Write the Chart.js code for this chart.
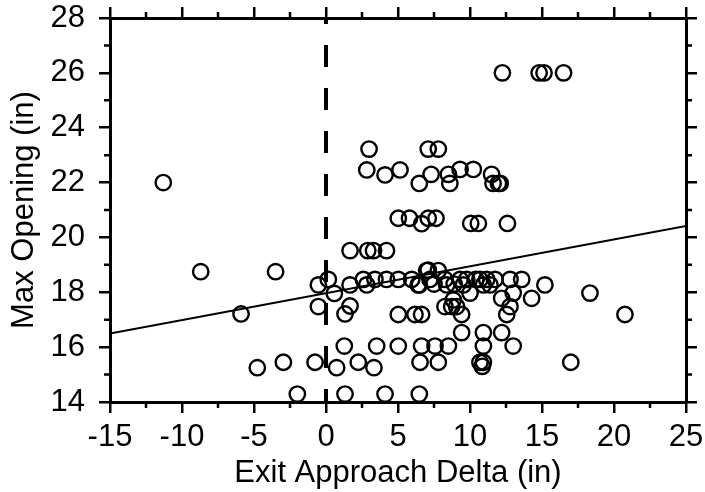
<!DOCTYPE html>
<html>
<head>
<meta charset="utf-8">
<script src="https://cdn.jsdelivr.net/npm/chart.js@4/dist/chart.umd.min.js"></script>
<style>
  html, body { margin: 0; padding: 0; background: #fff; }
  #wrap { width: 705px; height: 492px; }
</style>
</head>
<body>
<div id="wrap"><canvas id="chart"></canvas></div>
<script>
// measured points: exit approach delta (in) / max opening (in)
const deltaX = [
  -11.3, -8.7, -3.5, -5.9, -0.53, 0.16, 0.58, -0.53, 1.67, 1.67, 1.32,
  1.67, 2.9, 3.3, 4.2, 2.6, 2.83, 3.4, 4.2, 1.27, 3.52,
  -4.77, -2.96, -0.76, 0.74, 2.24, 3.33, -1.99, 1.32, 4.1,
  2.99, 7.1, 7.8, 2.83, 4.1, 5.14, 6.48, 7.3, 8.5, 8.6, 9.31, 10.23,
  11.5, 11.6, 11.97, 12.1, 12.25, 14.8, 15.14, 16.5,
  5.02, 5.8, 6.64, 7.1, 7.64, 10.05, 10.58, 12.6,
  5.02, 5.95, 6.48, 6.99, 7.22, 7.8, 8.26, 8.38, 9.31, 9.54, 9.77, 10.69,
  10.93, 11.16, 11.39, 11.74, 12.78, 13.59, 15.2, 18.33, 20.76,
  10.0, 12.2, 13.0, 12.78, 12.55, 14.28, 8.26, 8.73, 9.07, 9.42, 8.84,
  5.02, 6.18, 6.64, 9.42, 10.93, 12.2,
  5.02, 6.64, 7.57, 8.5, 10.93, 13.0,
  6.53, 7.8, 10.69, 10.93, 10.85, 17.0, 6.48,
  7.5, 8.9, 10.4, 6.4, 7.1
];
const openingY = [
  22.0, 18.75, 18.75, 17.21, 18.27, 18.47, 17.96, 17.48, 18.27, 17.5, 17.21,
  19.52, 19.52, 19.52, 19.52, 18.47, 18.27, 18.47, 18.47, 16.04, 16.04,
  15.25, 15.45, 15.45, 15.25, 15.45, 15.25, 14.29, 14.29, 14.29,
  23.22, 23.22, 23.22, 22.46, 22.28, 22.46, 21.97, 22.3, 22.3, 21.97, 22.48, 22.48,
  22.3, 21.97, 21.97, 21.97, 26.0, 26.0, 26.0, 26.0,
  20.7, 20.7, 20.5, 20.7, 20.7, 20.51, 20.51, 20.51,
  18.47, 18.47, 18.27, 18.79, 18.47, 18.79, 18.47, 18.27, 18.47, 18.27, 18.47, 18.47,
  18.27, 18.47, 18.27, 18.47, 18.47, 18.47, 18.27, 17.97, 17.19,
  17.97, 17.78, 17.97, 17.48, 17.19, 17.78, 17.48, 17.48, 17.48, 17.19, 17.72,
  17.19, 17.19, 17.19, 16.53, 16.53, 16.53,
  16.04, 16.04, 16.04, 16.04, 16.04, 16.04,
  15.45, 15.45, 15.45, 15.45, 15.3, 15.45, 14.29,
  18.3, 18.3, 18.47, 18.27, 18.81
];
const fitX = [-15, 25];
const fitY = [16.5, 20.42];
const zeroY = [28, 14];

const xTicks = [-15, -10, -5, 0, 5, 10, 15, 20, 25];
const yTicks = [14, 16, 18, 20, 22, 24, 26, 28];

const font = { family: "'Liberation Sans', Arial, sans-serif", size: 31 };

const points = deltaX.map((x, i) => ({ x: x, y: openingY[i] }));

// minor ticks on all four sides
const minorTicks = {
  id: 'minorTicks',
  afterDraw(chart) {
    const ctx = chart.ctx;
    const a = chart.chartArea;
    const sx = chart.scales.x, sy = chart.scales.y;
    ctx.save();
    ctx.strokeStyle = '#000';
    ctx.lineWidth = 2.5;
    ctx.beginPath();
    for (let v = -12.5; v < 25; v += 5) {
      const px = sx.getPixelForValue(v);
      ctx.moveTo(px, a.bottom); ctx.lineTo(px, a.bottom + 6);
      ctx.moveTo(px, a.top); ctx.lineTo(px, a.top - 6);
    }
    for (let v = 15; v < 28; v += 2) {
      const py = sy.getPixelForValue(v);
      ctx.moveTo(a.left, py); ctx.lineTo(a.left - 6, py);
      ctx.moveTo(a.right, py); ctx.lineTo(a.right + 6, py);
    }
    ctx.stroke();
    ctx.restore();
  }
};

const noOverflow = s => {
  s.paddingTop = 0; s.paddingBottom = 0;
  s.paddingLeft = 0; s.paddingRight = 0;
};

const majorGrid = {
  drawOnChartArea: false,
  drawTicks: true,
  tickLength: 11,
  lineWidth: 2.5,
  color: '#000'
};
const border = { display: true, color: '#000', width: 3 };

new Chart(document.getElementById('chart'), {
  type: 'scatter',
  data: {
    datasets: [
      {
        data: points,
        pointStyle: 'circle',
        pointRadius: 7.7,
        pointHoverRadius: 7.7,
        pointBorderWidth: 2.4,
        borderColor: '#000',
        backgroundColor: 'rgba(0,0,0,0)'
      },
      {
        type: 'line',
        data: fitX.map((x, i) => ({ x: x, y: fitY[i] })),
        borderColor: '#000',
        borderWidth: 2,
        pointRadius: 0,
        fill: false
      },
      {
        type: 'line',
        data: zeroY.map(y => ({ x: 0, y: y })),
        borderColor: '#000',
        borderWidth: 4,
        borderDash: [22, 21],
        borderDashOffset: 16,
        borderCapStyle: 'butt',
        pointRadius: 0,
        fill: false
      }
    ]
  },
  options: {
    responsive: true,
    maintainAspectRatio: false,
    animation: false,
    layout: { padding: 0 },
    plugins: {
      legend: { display: false },
      tooltip: { enabled: false }
    },
    scales: {
      x: {
        type: 'linear',
        position: 'bottom',
        min: -15,
        max: 25,
        afterBuildTicks: s => { s.ticks = xTicks.map(v => ({ value: v })); },
        afterFit: s => { s.height = 90; noOverflow(s); },
        grid: majorGrid,
        border: border,
        ticks: { color: '#000', font: font, padding: 6, maxRotation: 0 },
        title: { display: true, text: 'Exit Approach Delta (in)', color: '#000', font: font, padding: 0 }
      },
      x2: {
        type: 'linear',
        position: 'top',
        min: -15,
        max: 25,
        afterBuildTicks: s => { s.ticks = xTicks.map(v => ({ value: v })); },
        afterFit: s => { s.height = 18; noOverflow(s); },
        grid: majorGrid,
        border: border,
        ticks: { display: false }
      },
      y: {
        type: 'linear',
        position: 'left',
        min: 14,
        max: 28,
        afterBuildTicks: s => { s.ticks = yTicks.map(v => ({ value: v })); },
        afterFit: s => { s.width = 110; noOverflow(s); },
        grid: majorGrid,
        border: border,
        ticks: { color: '#000', font: font, padding: 14 },
        title: { display: true, text: 'Max Opening (in)', color: '#000', font: font, padding: 6 }
      },
      y2: {
        type: 'linear',
        position: 'right',
        min: 14,
        max: 28,
        afterBuildTicks: s => { s.ticks = yTicks.map(v => ({ value: v })); },
        afterFit: s => { s.width = 19; noOverflow(s); },
        grid: majorGrid,
        border: border,
        ticks: { display: false }
      }
    }
  },
  plugins: [minorTicks]
});
</script>
</body>
</html>
